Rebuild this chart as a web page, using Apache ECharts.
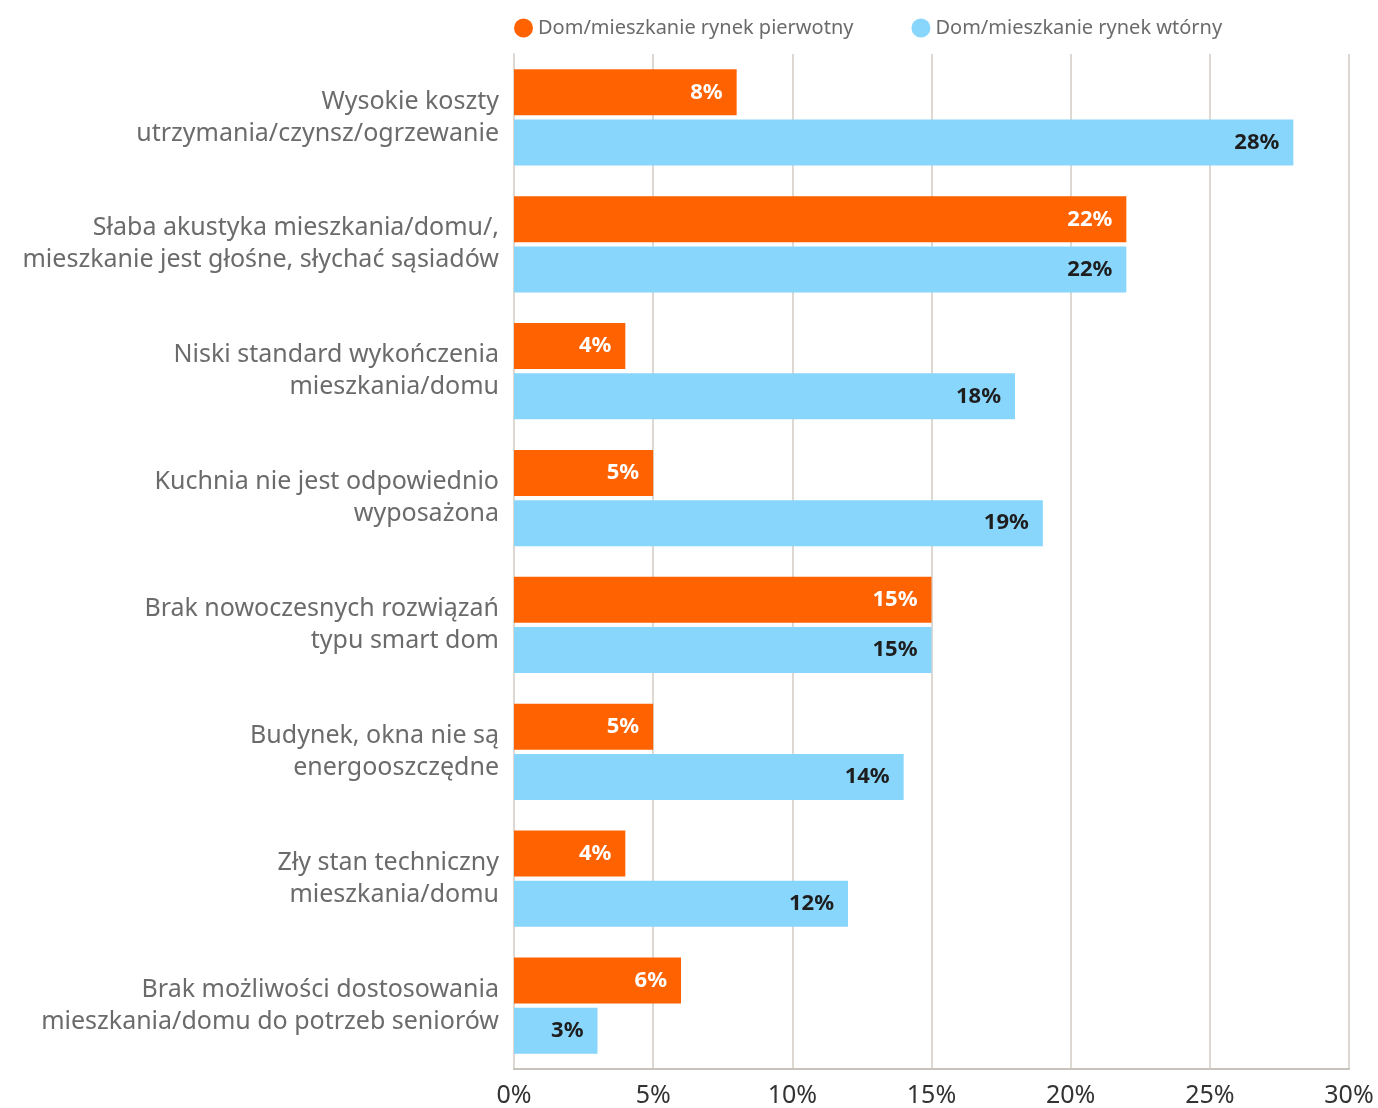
<!DOCTYPE html>
<html>
<head>
<meta charset="utf-8">
<script src="https://cdn.jsdelivr.net/npm/echarts@6/dist/echarts.min.js"></script>
<style>
  html, body { margin: 0; padding: 0; background: #fff; }
  #chart { width: 1378px; height: 1108px; }
</style>
</head>
<body>
<div id="chart"></div>
<script>
const categories = [
  'Wysokie koszty\nutrzymania/czynsz/ogrzewanie',
  'Słaba akustyka mieszkania/domu/,\nmieszkanie jest głośne, słychać sąsiadów',
  'Niski standard wykończenia\nmieszkania/domu',
  'Kuchnia nie jest odpowiednio\nwyposażona',
  'Brak nowoczesnych rozwiązań\ntypu smart dom',
  'Budynek, okna nie są\nenergooszczędne',
  'Zły stan techniczny\nmieszkania/domu',
  'Brak możliwości dostosowania\nmieszkania/domu do potrzeb seniorów'
];
const primaryMarket = [8, 22, 4, 5, 15, 5, 4, 6];
const secondaryMarket = [28, 22, 18, 19, 15, 14, 12, 3];
const seriesNames = ['Dom/mieszkanie rynek pierwotny', 'Dom/mieszkanie rynek wtórny'];
const xTicks = [0, 5, 10, 15, 20, 25, 30];

const font = '"Noto Sans", "Open Sans", sans-serif';
const chart = echarts.init(document.getElementById('chart'));

const option = {
  animation: false,
  textStyle: { fontFamily: font },
  legend: {
    data: seriesNames,
    left: 509,
    top: 13,
    icon: 'circle',
    itemWidth: 19,
    itemHeight: 19,
    itemGap: 58,
    textStyle: { color: '#6b6b6b', fontSize: 20, fontFamily: font }
  },
  grid: {
    left: 514,
    right: 29,
    top: 54,
    bottom: 39,
    containLabel: false
  },
  xAxis: {
    type: 'value',
    min: xTicks[0],
    max: xTicks[xTicks.length - 1],
    interval: 5,
    axisLine: { show: true, lineStyle: { color: '#c7c2bc', width: 2 } },
    axisTick: { show: false },
    splitLine: { show: true, lineStyle: { color: '#ddd8d2', width: 2 } },
    axisLabel: {
      formatter: '{value}%',
      color: '#333',
      fontSize: 25,
      margin: 14,
      fontFamily: font
    }
  },
  yAxis: {
    type: 'category',
    data: categories,
    inverse: true,
    axisLine: { show: true, lineStyle: { color: '#ddd8d2', width: 2 } },
    axisTick: { show: false },
    axisLabel: {
      color: '#6b6b6b',
      fontSize: 25,
      lineHeight: 32,
      margin: 15,
      align: 'right',
      fontFamily: font
    }
  },
  series: [
    {
      name: seriesNames[0],
      type: 'bar',
      data: primaryMarket,
      barWidth: 46,
      barGap: '9%',
      itemStyle: { color: '#ff6200' },
      label: {
        show: true,
        position: 'insideRight',
        offset: [-9, 0],
        formatter: '{c}%',
        color: '#ffffff',
        fontWeight: 'bold',
        fontSize: 22,
        fontFamily: font
      }
    },
    {
      name: seriesNames[1],
      type: 'bar',
      data: secondaryMarket,
      barWidth: 46,
      itemStyle: { color: '#89d6fd' },
      label: {
        show: true,
        position: 'insideRight',
        offset: [-9, 0],
        formatter: '{c}%',
        color: '#1e1e1e',
        fontWeight: 'bold',
        fontSize: 22,
        fontFamily: font
      }
    }
  ]
};

chart.setOption(option);
</script>
</body>
</html>
